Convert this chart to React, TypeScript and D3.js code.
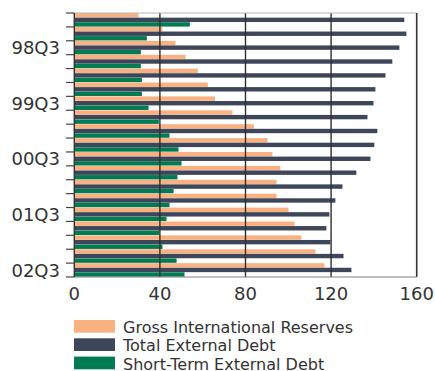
import React from "react";
import * as d3 from "d3";

const quarters = [
  "98Q1", "98Q2", "98Q3", "98Q4",
  "99Q1", "99Q2", "99Q3", "99Q4",
  "00Q1", "00Q2", "00Q3", "00Q4",
  "01Q1", "01Q2", "01Q3", "01Q4",
  "02Q1", "02Q2", "02Q3",
];
const labeledQuarters = ["98Q3", "99Q3", "00Q3", "01Q3", "02Q3"];

const grossReserves = [30.0, 41.2, 47.3, 52.0, 57.7, 62.4, 65.7, 73.9, 83.9, 90.3, 92.6, 96.3, 94.5, 94.5, 100.1, 102.9, 106.1, 112.7, 116.9];
const totalDebt = [154.2, 155.2, 151.9, 148.6, 145.4, 140.7, 139.8, 137.0, 141.6, 140.2, 138.4, 131.8, 125.3, 122.0, 119.2, 117.8, 119.7, 125.8, 129.5];
const shortTermDebt = [54.0, 33.9, 31.1, 31.1, 31.6, 31.6, 34.7, 39.5, 44.5, 48.7, 50.1, 48.2, 46.4, 44.5, 43.1, 39.8, 41.2, 47.8, 51.5];

const xTicks = [0, 40, 80, 120, 160];
const seriesNames = ["Gross International Reserves", "Total External Debt", "Short-Term External Debt"];
const seriesColors = ["#FAB181", "#3E4659", "#007B52"];

export default function App() {
  const W = 435, H = 371;
  const left = 74.3, right = 416.7, top = 13, bottom = 277;
  const font = "'DejaVu Sans', Verdana, sans-serif";

  const x = d3.scaleLinear().domain([0, 160]).range([left, right]);
  const y = d3.scaleBand<string>().domain(quarters).range([top, bottom]).paddingInner(0).paddingOuter(0);
  const sub = d3.scaleBand<number>().domain([0, 1, 2]).range([0, y.bandwidth()]).paddingInner(0.04).paddingOuter(0.04).align(0.2);
  const series = [grossReserves, totalDebt, shortTermDebt];

  const boundaries = quarters.map((q) => y(q) as number).concat([bottom]);

  return (
    <svg width={W} height={H} style={{ position: "absolute", left: 0, top: 0, background: "#fff" }} fontFamily={font}>
      {/* bars */}
      {quarters.map((q, i) => (
        <g key={q} transform={`translate(0,${y(q)})`}>
          {series.map((s, k) => (
            <rect key={k} x={x(0)} y={sub(k)} width={x(s[i]) - x(0)} height={sub.bandwidth()} fill={seriesColors[k]} />
          ))}
        </g>
      ))}
      {/* gridlines */}
      {xTicks.slice(1, -1).map((t) => (
        <line key={t} x1={x(t)} x2={x(t)} y1={top} y2={bottom} stroke="#2f2f2f" strokeWidth={1.4} />
      ))}
      {/* frame */}
      <line x1={left} x2={right} y1={top} y2={top} stroke="#b8b8b8" strokeWidth={1.2} />
      <line x1={right} x2={right} y1={top} y2={bottom} stroke="#333" strokeWidth={1.6} />
      <line x1={left} x2={right} y1={bottom} y2={bottom} stroke="#808080" strokeWidth={1.2} />
      <line x1={left} x2={left} y1={top} y2={bottom} stroke="#333" strokeWidth={1.4} />
      {/* y ticks */}
      {boundaries.map((b, i) => (
        <line key={i} x1={66} x2={left} y1={b} y2={b} stroke="#444" strokeWidth={1.2} />
      ))}
      {/* y labels */}
      {labeledQuarters.map((q) => (
        <text key={q} x={60} y={(y(q) as number) + y.bandwidth() / 2} dy="0.36em" textAnchor="end" fontSize={18} fill="#333">
          {q}
        </text>
      ))}
      {/* x labels */}
      {xTicks.map((t) => (
        <text key={t} x={x(t)} y={300} textAnchor="middle" fontSize={18} fill="#333">
          {t}
        </text>
      ))}
      {/* legend */}
      {seriesNames.map((n, k) => (
        <g key={n} transform={`translate(74,${320 + k * 18.3})`}>
          <rect x={0} y={0} width={41} height={12.7} fill={seriesColors[k]} />
          <text x={49} y={13} fontSize={16} fill="#333">{n}</text>
        </g>
      ))}
    </svg>
  );
}
